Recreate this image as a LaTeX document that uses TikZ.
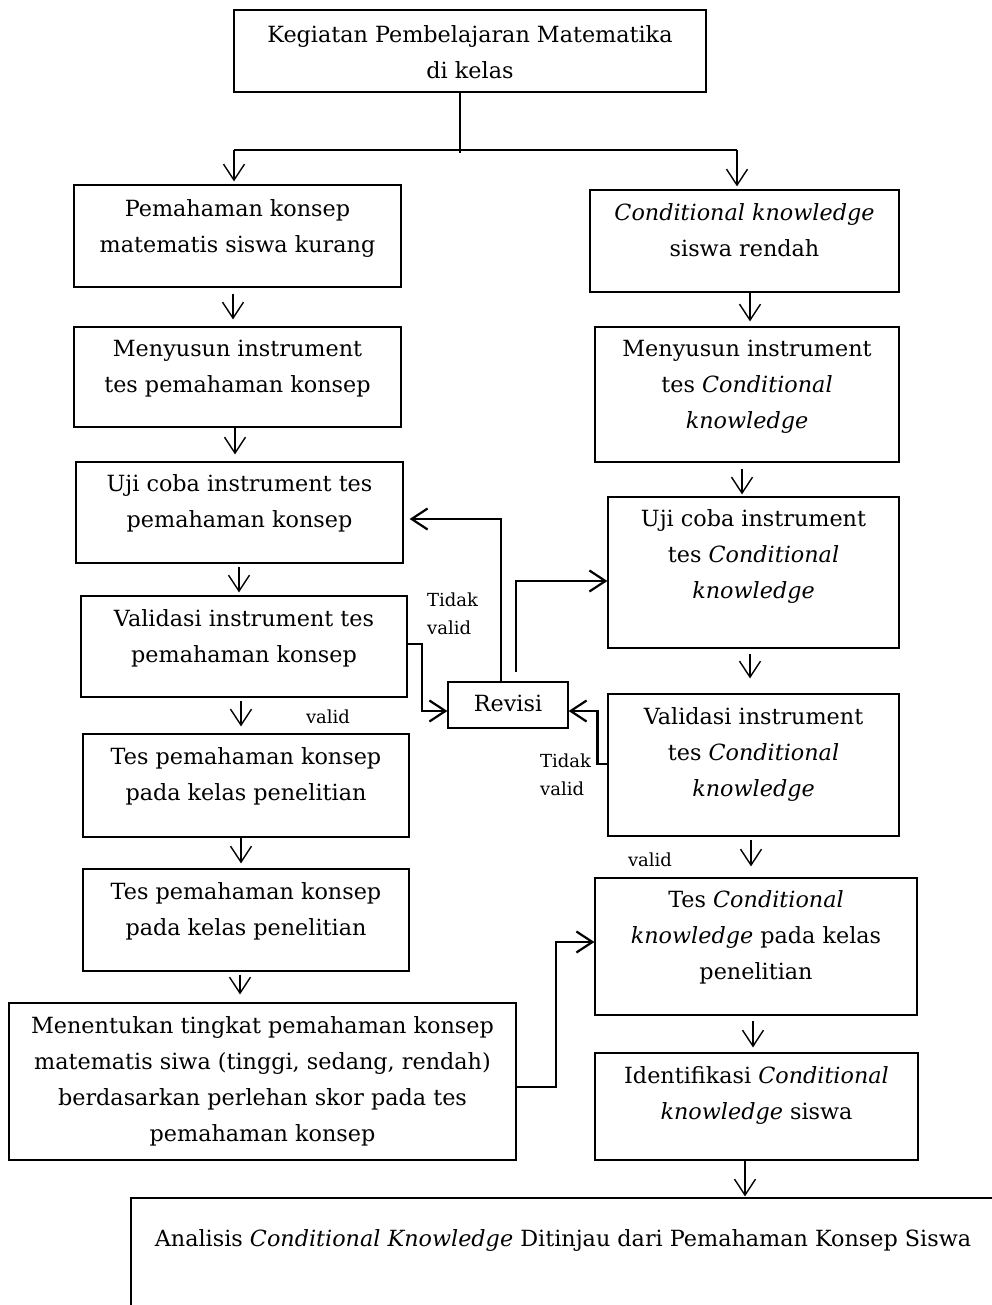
\documentclass[tikz,border=0pt]{standalone}
\usepackage{fontspec}
\setmainfont{DejaVu Serif}
\usetikzlibrary{arrows.meta}
\begin{document}
\begin{tikzpicture}[x=1pt,y=-1pt,
  box/.style={draw, line width=1.2pt, inner sep=0pt, rectangle},
  txt/.style={align=center, inner sep=0pt, font=\fontsize{22.3}{36}\selectfont,
    execute at begin node=\strut, execute at end node=\strut},
  lbl/.style={align=left, inner sep=0pt, font=\fontsize{18}{28}\selectfont},
  arr/.style={line width=1.4pt, -{Straight Barb[length=16pt,width=21pt]}},
  tarr/.style={line width=2.2pt, -{Straight Barb[length=16pt,width=21pt]}},
  tline/.style={line width=2pt}]
\useasboundingbox (0,0) rectangle (992,1305);
\fill[white] (0,0) rectangle (992,1305);
\clip (0,0) rectangle (992,1305);

% boxes
\node[box, minimum width=472pt, minimum height=82pt]  (T) at (470,51) {};
\node[box, minimum width=327pt, minimum height=102pt] (A) at (237.5,236) {};
\node[box, minimum width=327pt, minimum height=100pt] (B) at (237.5,377) {};
\node[box, minimum width=327pt, minimum height=101pt] (C) at (239.5,512.5) {};
\node[box, minimum width=326pt, minimum height=101pt] (D) at (244,646.5) {};
\node[box, minimum width=326pt, minimum height=103pt] (E) at (246,785.5) {};
\node[box, minimum width=326pt, minimum height=102pt] (F) at (246,920) {};
\node[box, minimum width=507pt, minimum height=157pt] (G) at (262.5,1081.5) {};
\node[box, minimum width=120pt, minimum height=46pt]  (R) at (508,705) {};
\node[box, minimum width=309pt, minimum height=102pt] (H) at (744.5,241) {};
\node[box, minimum width=304pt, minimum height=135pt] (I) at (747,394.5) {};
\node[box, minimum width=291pt, minimum height=151pt] (J) at (753.5,572.5) {};
\node[box, minimum width=291pt, minimum height=142pt] (K) at (753.5,765) {};
\node[box, minimum width=322pt, minimum height=137pt] (L) at (756,946.5) {};
\node[box, minimum width=323pt, minimum height=107pt] (M) at (756.5,1106.5) {};
\node[box, minimum width=869pt, minimum height=122pt] (N) at (565.5,1259) {};

% texts
\node[txt] (tT) at (470,57) {Kegiatan Pembelajaran Matematika\\di kelas};
\node[txt] (tA) at (237.5,231) {Pemahaman konsep\\matematis siswa kurang};
\node[txt] (tB) at (237.5,372) {Menyusun instrument\\tes pemahaman konsep};
\node[txt] (tC) at (239.5,506) {Uji coba instrument tes\\pemahaman konsep};
\node[txt] (tD) at (244,641) {Validasi instrument tes\\pemahaman konsep};
\node[txt] (tE) at (246,779) {Tes pemahaman konsep\\pada kelas penelitian};
\node[txt] (tF) at (246,914) {Tes pemahaman konsep\\pada kelas penelitian};
\node[txt] (tG) at (262.5,1084) {Menentukan tingkat pemahaman konsep\\matematis siwa (tinggi, sedang, rendah)\\berdasarkan perlehan skor pada tes\\pemahaman konsep};
\node[txt] (tR) at (508,704) {Revisi};
\node[txt] (tH) at (744.5,235) {\textit{Conditional knowledge}\\siswa rendah};
\node[txt] (tI) at (747,390) {Menyusun instrument\\tes \textit{Conditional}\\\textit{knowledge}};
\node[txt] (tJ) at (753.5,559) {Uji coba instrument\\tes \textit{Conditional}\\\textit{knowledge}};
\node[txt] (tK) at (753.5,757) {Validasi instrument\\tes \textit{Conditional}\\\textit{knowledge}};
\node[txt] (tL) at (756,940) {Tes \textit{Conditional}\\\textit{knowledge} pada kelas\\penelitian};
\node[txt] (tM) at (756.5,1098) {Identifikasi \textit{Conditional}\\\textit{knowledge} siswa};
\node[txt] (tN) at (563,1239) {Analisis \textit{Conditional Knowledge} Ditinjau dari Pemahaman Konsep Siswa};

% labels
\node[lbl, anchor=west] (tv1) at (427,614) {Tidak\\valid};
\node[lbl, anchor=west] (tv2) at (540,775) {Tidak\\valid};
\node[lbl] (v1) at (328,717) {valid};
\node[lbl] (v2) at (650,860) {valid};

% top split
\coordinate (jl) at (234,150);
\coordinate (jr) at (737,150);
\draw[line width=1.2pt] ([xshift=-10]T.south) -- ++(0,60);
\draw[tline] (jl) -- (jr);
\draw[arr] (jl) -- ([shift={(-3.5,-3)}]A.north);
\draw[arr] (jr) -- ([shift={(-7.5,-3)}]H.north);

% main flow arrows
\draw[arr] ([shift={(-4.5,6)}]A.south) -- ([shift={(-4.5,-7)}]B.north);
\draw[arr] ([shift={(-2.5,0)}]B.south) -- ([shift={(-4.5,-7)}]C.north);
\draw[arr] ([shift={(-0.5,3)}]C.south) -- ([shift={(-5,-3)}]D.north);
\draw[arr] ([shift={(-3,3)}]D.south) -- ([shift={(-5,-7)}]E.north);
\draw[arr] ([shift={(-5,0)}]E.south) -- ([shift={(-5,-5)}]F.north);
\draw[arr] ([shift={(-6,3)}]F.south) -- ([shift={(-22.5,-8)}]G.north);
\draw[arr] ([shift={(5.5,0)}]H.south) -- ([shift={(3,-5)}]I.north);
\draw[arr] ([shift={(-5,6)}]I.south) -- ([shift={(-11.5,-2)}]J.north);
\draw[arr] ([shift={(-3.5,5)}]J.south) -- ([shift={(-3.5,-15)}]K.north);
\draw[arr] ([shift={(-2.5,3)}]K.south) -- ([shift={(-5,-11)}]L.north);
\draw[arr] ([shift={(-3,5)}]L.south) -- ([shift={(-3.5,-5)}]M.north);
\draw[arr] ([shift={(-11.5,0)}]M.south) -- ([shift={(179.5,-1)}]N.north);

% revision loops
\draw[tarr] ([yshift=2.5]D.east) -- ++(14,0) |- ([yshift=-6]R.west);
\draw[tarr] ([xshift=-7]R.north) |- ([shift={(6,6.5)}]C.east);
\draw[tarr] ([shift={(8,-9)}]R.north) |- ([yshift=-8.5]J.west);
\draw[tarr] ([yshift=1]K.west) -- ++(-10,0) |- ([yshift=-6]R.east);
\draw[tarr] ([yshift=-5.5]G.east) -- ++(39,0) |- ([yshift=4.5]L.west);
\end{tikzpicture}
\end{document}
